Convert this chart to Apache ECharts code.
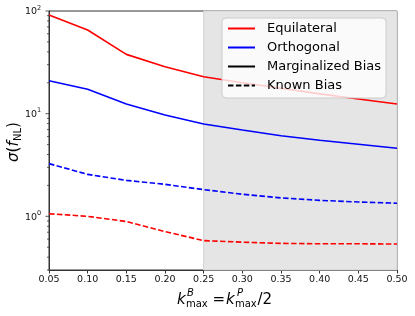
<!DOCTYPE html>
<html>
<head>
<meta charset="utf-8">
<script src="https://cdn.jsdelivr.net/npm/echarts@6/dist/echarts.min.js"></script>
<style>
html,body{margin:0;padding:0;background:#fff;}
#c{width:415px;height:316px;}
</style>
</head>
<body>
<div id="c"></div>
<script>
var kmax = [0.05, 0.10, 0.15, 0.20, 0.25, 0.30, 0.35, 0.40, 0.45, 0.50];
var equilMarg = [91.4, 65.3, 37.8, 28.7, 22.9, 20.0, 17.7, 15.6, 13.9, 12.4];
var orthoMarg = [20.9, 17.3, 12.4, 9.7, 7.94, 6.93, 6.1, 5.5, 5.04, 4.6];
var orthoKnown = [3.26, 2.56, 2.24, 2.05, 1.82, 1.64, 1.51, 1.43, 1.38, 1.34];
var equilKnown = [1.06, 1.0, 0.89, 0.71, 0.58, 0.56, 0.545, 0.54, 0.54, 0.537];
var shadeRange = [0.25, 0.50];
var majorTicks = [1, 10, 100];
var minorTicks = [0.3, 0.4, 0.5, 0.6, 0.7, 0.8, 0.9, 2, 3, 4, 5, 6, 7, 8, 9, 20, 30, 40, 50, 60, 70, 80, 90];
var legendNames = ['Equilateral', 'Orthogonal', 'Marginalized Bias', 'Known Bias'];

function pairs(ys){ return kmax.map(function(x,i){ return [x, ys[i]]; }); }

var chart = echarts.init(document.getElementById('c'), null, {renderer:'canvas'});
var FONT = 'DejaVu Sans';
var dash = [5.5, 2.4];
var LW = 1.6;

function tickSeries(vals, len){
  return {
    type:'custom', silent:true, clip:false, z:5,
    data: vals.map(function(v){ return [kmax[0], v]; }),
    renderItem: function(params, api){
      var p = api.coord([api.value(0), api.value(1)]);
      return {type:'line', shape:{x1:p[0]-len, y1:p[1], x2:p[0], y2:p[1]}, style:{stroke:'#333', lineWidth:0.8}};
    }
  };
}

var option = {
  animation:false,
  backgroundColor:'#fff',
  grid:{left:49, right:18, top:11, bottom:46, show:true, borderColor:'#333', borderWidth:1, backgroundColor:'transparent'},
  legend:{
    orient:'vertical', left:222, top:18,
    data: legendNames,
    itemWidth:27, itemHeight:14, itemGap:6,
    padding:[4,5,6,5],
    backgroundColor:'rgba(255,255,255,0.8)', borderColor:'#cccccc', borderWidth:1, borderRadius:4,
    itemStyle:{opacity:0},
    textStyle:{fontFamily:FONT, fontSize:13, color:'#000', padding:[0,0,0,7]},
    selectedMode:false
  },
  xAxis:{
    type:'value', min:0.05, max:0.5, interval:0.05,
    axisLine:{show:true, onZero:false, lineStyle:{color:'#333', width:1}},
    axisTick:{show:true, inside:false, length:3.5, lineStyle:{color:'#333'}},
    axisLabel:{fontFamily:FONT, fontSize:9.5, color:'#111', margin:5, formatter:function(v){return v.toFixed(2);}},
    splitLine:{show:false}
  },
  yAxis:{
    type:'log', logBase:10, min:0.3, max:100, splitNumber:3,
    axisLine:{show:true, lineStyle:{color:'#333', width:1}},
    axisTick:{show:false},
    axisLabel:{show:false},
    splitLine:{show:false}
  },
  graphic:[
    {type:'group', x:0, y:0, children:[
      {type:'text', x:177, y:300, style:{text:'k', font:'italic 15px "DejaVu Sans"', fill:'#000', textVerticalAlign:'middle'}},
      {type:'text', x:187, y:293, style:{text:'B', font:'italic 10px "DejaVu Sans"', fill:'#000', textVerticalAlign:'middle'}},
      {type:'text', x:186, y:304, style:{text:'max', font:'10px "DejaVu Sans"', fill:'#000', textVerticalAlign:'middle'}},
      {type:'text', x:212.5, y:300, style:{text:'=', font:'15px "DejaVu Sans"', fill:'#000', textVerticalAlign:'middle'}},
      {type:'text', x:226, y:300, style:{text:'k', font:'italic 15px "DejaVu Sans"', fill:'#000', textVerticalAlign:'middle'}},
      {type:'text', x:237, y:293, style:{text:'P', font:'italic 10px "DejaVu Sans"', fill:'#000', textVerticalAlign:'middle'}},
      {type:'text', x:235, y:304, style:{text:'max', font:'10px "DejaVu Sans"', fill:'#000', textVerticalAlign:'middle'}},
      {type:'text', x:257.5, y:300, style:{text:'/2', font:'15px "DejaVu Sans"', fill:'#000', textVerticalAlign:'middle'}}
    ]},
    {type:'group', x:14, y:142, rotation:Math.PI/2, children:[
      {type:'text', x:-20, y:0, style:{text:'\u03c3', font:'italic 15px "DejaVu Sans"', fill:'#000', textVerticalAlign:'middle'}},
      {type:'text', x:-10.5, y:0, style:{text:'(', font:'15px "DejaVu Sans"', fill:'#000', textVerticalAlign:'middle'}},
      {type:'text', x:-4.6, y:0, style:{text:'f', font:'italic 15px "DejaVu Sans"', fill:'#000', textVerticalAlign:'middle'}},
      {type:'text', x:1, y:4, style:{text:'NL', font:'10px "DejaVu Sans"', fill:'#000', textVerticalAlign:'middle'}},
      {type:'text', x:14, y:0, style:{text:')', font:'15px "DejaVu Sans"', fill:'#000', textVerticalAlign:'middle'}}
    ]}
  ],
  series:[
    {name:'shade', type:'line', data:[], silent:true, z:1,
     markArea:{silent:true, itemStyle:{color:'#e5e5e5', borderColor:'#d2d2d2', borderWidth:1},
       data:[[{xAxis:shadeRange[0]},{xAxis:shadeRange[1]}]]}},
    {name:'Equilateral', type:'line', data:pairs(equilMarg), symbol:'none', z:3,
     lineStyle:{color:'#ff0000', width:LW}, itemStyle:{color:'#ff0000'}},
    {name:'Orthogonal', type:'line', data:pairs(orthoMarg), symbol:'none', z:3,
     lineStyle:{color:'#0000ff', width:LW}, itemStyle:{color:'#0000ff'}},
    {name:'Orthogonal (known bias)', type:'line', data:pairs(orthoKnown), symbol:'none', z:3,
     lineStyle:{color:'#0000ff', width:LW, type:dash}, itemStyle:{color:'#0000ff'}},
    {name:'Equilateral (known bias)', type:'line', data:pairs(equilKnown), symbol:'none', z:3,
     lineStyle:{color:'#ff0000', width:LW, type:dash}, itemStyle:{color:'#ff0000'}},
    {name:'Marginalized Bias', type:'line', data:[], symbol:'none',
     lineStyle:{color:'#000', width:LW}, itemStyle:{color:'#000'}},
    {name:'Known Bias', type:'line', data:[], symbol:'none',
     lineStyle:{color:'#000', width:LW, type:dash}, itemStyle:{color:'#000'}},
    tickSeries(majorTicks, 3.5),
    tickSeries(minorTicks, 2),
    {type:'custom', silent:true, clip:false, z:5,
     data: majorTicks.map(function(v){ return [kmax[0], v]; }),
     renderItem:function(params, api){
       var v = api.value(1);
       var p = api.coord([api.value(0), v]);
       var e = Math.round(Math.log10(v));
       return {type:'group', children:[
         {type:'text', x:p[0]-7-5, y:p[1]+1, style:{text:'10', font:'9.5px "DejaVu Sans"', fill:'#111', textAlign:'right', textVerticalAlign:'middle'}},
         {type:'text', x:p[0]-7-5, y:p[1]-3, style:{text:String(e), font:'6.5px "DejaVu Sans"', fill:'#111', textAlign:'left', textVerticalAlign:'middle'}}
       ]};
     }}
  ]
};
chart.setOption(option);
</script>
</body>
</html>
